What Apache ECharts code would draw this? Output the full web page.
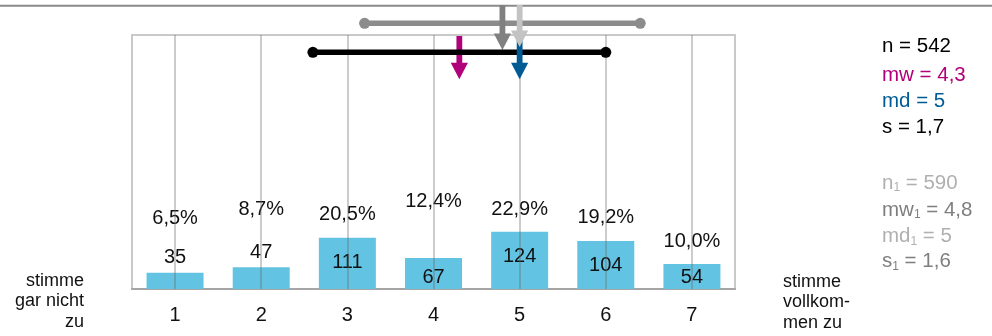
<!DOCTYPE html>
<html><head><meta charset="utf-8">
<script src="https://cdn.jsdelivr.net/npm/echarts@6/dist/echarts.min.js"></script>
<style>html,body{margin:0;padding:0;background:#fff}#c{width:992px;height:336px}</style>
</head><body><div id="c"></div>
<script>
// ---- data ----
const categories = ['1', '2', '3', '4', '5', '6', '7'];
const counts = [35, 47, 111, 67, 124, 104, 54];
const percents = [6.5, 8.7, 20.5, 12.4, 22.9, 19.2, 10.0];
const statsNow = [542, 4.3, 5, 1.7];   // n, mw, md, s
const statsPrev = [590, 4.8, 5, 1.6];  // n1, mw1, md1, s1
const leftEndLabel = ['stimme', 'gar nicht', 'zu'];
const rightEndLabel = ['stimme', 'vollkom-', 'men zu'];

// ---- styling ----
const FONT = 'Liberation Sans, Arial, sans-serif';
const pctLabelDistance = [44, 47, 13, 46, 12, 13, 12];
const C = {
  bar: '#63c3e3', grid: 'rgba(100,100,100,0.33)', border: '#c9c9c9', axis: '#a5a5a5',
  mw: '#b0007a', md: '#005b94', black: '#000000',
  prevRange: '#8c8c8c', mwPrev: '#808080', mdPrev: '#c3c3c3',
  lightText: '#b0b0b0', darkText: '#7f7f7f'
};
const fmt = v => Number.isInteger(v) ? String(v) : v.toFixed(1).replace('.', ',');
const fmtPct = v => v.toFixed(1).replace('.', ',') + '%';

function countLabel(v) {
  if (v < 50) return { position: 'top', distance: 5 };
  if (v < 100) return { position: 'insideBottom', distance: 2 };
  return { position: 'insideTop', distance: 15 };
}

const chart = echarts.init(document.getElementById('c'));

function arrow(x, y0, y1, color) {
  const hl = 16.5, hw = 8.6, sw = 2.9;
  return [
    { type: 'rect', shape: { x: x - sw, y: y0, width: sw * 2, height: y1 - hl - y0 + 0.5 }, style: { fill: color } },
    { type: 'polygon', shape: { points: [[x - hw, y1 - hl], [x + hw, y1 - hl], [x, y1]] }, style: { fill: color } }
  ];
}
function range(x0, x1, y, color) {
  return [
    { type: 'line', shape: { x1: x0, y1: y, x2: x1, y2: y }, style: { stroke: color, lineWidth: 5.5 } },
    { type: 'circle', shape: { cx: x0, cy: y, r: 5.5 }, style: { fill: color } },
    { type: 'circle', shape: { cx: x1, cy: y, r: 5.5 }, style: { fill: color } }
  ];
}

const legendItems = [
  ['n = ' + statsNow[0], C.black, 46.7],
  ['mw = ' + fmt(statsNow[1]), C.mw, 75],
  ['md = ' + fmt(statsNow[2]), C.md, 101.7],
  ['s = ' + fmt(statsNow[3]), C.black, 127.3],
  ['n{sub|1} = ' + statsPrev[0], C.lightText, 183.3],
  ['mw{sub|1} = ' + fmt(statsPrev[1]), C.darkText, 210],
  ['md{sub|1} = ' + fmt(statsPrev[2]), C.lightText, 236.7],
  ['s{sub|1} = ' + fmt(statsPrev[3]), C.darkText, 261.7]
];

const graphics = [
  { type: 'line', shape: { x1: 0, y1: 5.7, x2: 992, y2: 5.7 }, style: { stroke: '#8a8a8a', lineWidth: 2 }, silent: true },
  { type: 'text', x: 84, y: 301.5, silent: true,
    style: { text: leftEndLabel.join('\n'), fontSize: 18, fontFamily: FONT, lineHeight: 20.5, fill: '#111', align: 'right', verticalAlign: 'middle' } },
  { type: 'text', x: 783, y: 302.5, silent: true,
    style: { text: rightEndLabel.join('\n'), fontSize: 18, fontFamily: FONT, lineHeight: 20.5, fill: '#111', align: 'left', verticalAlign: 'middle' } }
].concat(legendItems.map(([t, col, y]) => ({
  type: 'text', x: 882, y: y, silent: true,
  style: { text: t, fontSize: 20.5, fontFamily: FONT, fill: col, verticalAlign: 'middle', align: 'left',
    rich: { sub: { fontSize: 12, lineHeight: 10, verticalAlign: 'bottom', fontFamily: FONT, fill: col } } }
})));

chart.setOption({
  animation: false,
  textStyle: { fontFamily: FONT },
  grid: { left: 132, right: 257, top: 35, bottom: 47, show: true, borderColor: C.border, borderWidth: 2 },
  xAxis: [
    { type: 'category', data: categories,
      axisLine: { lineStyle: { color: C.axis, width: 2 } }, axisTick: { show: false },
      axisLabel: { fontSize: 20, color: '#111', margin: 16, fontFamily: FONT }, splitLine: { show: false } },
    { type: 'value', min: 0.5, max: 7.5, show: false }
  ],
  yAxis: { type: 'value', min: 0, max: 550, show: false },
  graphic: graphics,
  series: [
    {
      type: 'bar', xAxisIndex: 0, barWidth: 57, itemStyle: { color: C.bar },
      emphasis: { disabled: true },
      data: counts.map(v => ({ value: v, label: countLabel(v) })),
      label: { show: true, fontSize: 20, color: '#111', fontFamily: FONT },
      markLine: {
        silent: true, symbol: ['none', 'none'], label: { show: false },
        lineStyle: { color: C.grid, width: 2, type: 'solid' },
        emphasis: { disabled: true },
        data: categories.map(c => ({ xAxis: c }))
      }
    },
    {
      type: 'scatter', xAxisIndex: 0, symbolSize: 1, itemStyle: { color: 'rgba(0,0,0,0)', opacity: 1 },
      emphasis: { disabled: true }, silent: true,
      data: counts.map((v, i) => ({ value: v, label: { distance: pctLabelDistance[i] } })),
      label: { show: true, position: 'top', fontSize: 20, color: '#111', opacity: 1, fontFamily: FONT,
        formatter: p => fmtPct(percents[p.dataIndex]) }
    },
    {
      type: 'custom', xAxisIndex: 1, yAxisIndex: 0, clip: false, silent: true, z: 10,
      data: [[statsNow[1], statsNow[3]]],
      renderItem: function (params, api) {
        const X = v => api.coord([v, 0])[0];
        const top = params.coordSys.y;
        const [, mw, md, s] = statsNow;
        const [, mw1, md1, s1] = statsPrev;
        let ch = [];
        ch = ch.concat(range(X(mw1 - s1), X(mw1 + s1), top - 11.7, C.prevRange));
        ch = ch.concat(arrow(X(mw1), top - 30, top + 15, C.mwPrev));
        ch = ch.concat(arrow(X(mw), top + 1, top + 44.3, C.mw));
        ch = ch.concat(range(X(mw - s), X(mw + s), top + 17.3, C.black));
        ch = ch.concat(arrow(X(md), top + 1, top + 44.3, C.md));
        ch = ch.concat(arrow(X(md1), top - 30, top + 12, C.mdPrev));
        return { type: 'group', children: ch };
      }
    }
  ]
});
</script>
</body></html>
